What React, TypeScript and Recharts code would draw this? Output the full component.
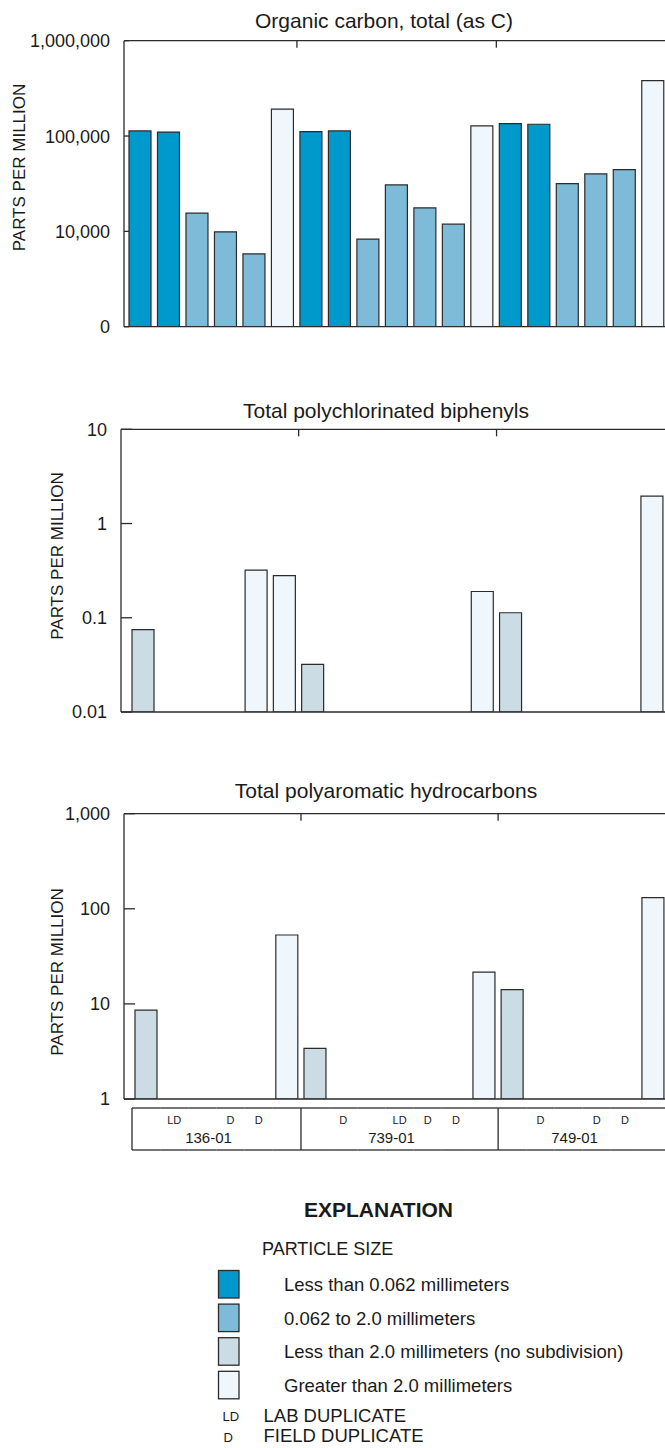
import { Bar, BarChart, Cell, XAxis, YAxis } from "recharts"

// sample layout along the x axis: site cores, in slot order
const sites = ["136-01", "739-01", "749-01"]
const siteSlots = [6, 7, 6]
const dupMarks = ["", "LD", "", "D", "D", "", "", "D", "", "LD", "D", "D", "", "", "D", "", "D", "D", ""]

// particle-size class of each slot
const carbonSizes = [
    "fine", "fine", "medium", "medium", "medium", "coarse",
    "fine", "fine", "medium", "medium", "medium", "medium", "coarse",
    "fine", "fine", "medium", "medium", "medium", "coarse",
]
const traceSizes = [
    "bulk", "", "", "", "coarse", "coarse",
    "bulk", "", "", "", "", "", "coarse",
    "bulk", "", "", "", "", "coarse",
]

// parts per million
const carbonValues = [
    113000, 110000, 15500, 9900, 5800, 192000,
    111000, 113000, 8300, 30700, 17600, 11900, 128000,
    135000, 133000, 31700, 40000, 44500, 381000,
]
const pcbValues = [
    0.075, null, null, null, 0.32, 0.28,
    0.032, null, null, null, null, null, 0.19,
    0.113, null, null, null, null, 1.95,
]
const pahValues = [
    8.6, null, null, null, null, 53,
    3.4, null, null, null, null, null, 21.6,
    14.1, null, null, null, null, 131,
]

const carbonTicks = [1000, 10000, 100000, 1000000]
const carbonTickLabels = ["0", "10,000", "100,000", "1,000,000"]
const pcbTicks = [0.01, 0.1, 1, 10]
const pcbTickLabels = ["0.01", "0.1", "1", "10"]
const pahTicks = [1, 10, 100, 1000]
const pahTickLabels = ["1", "10", "100", "1,000"]

const sizeClasses = ["fine", "medium", "bulk", "coarse"]
const sizeLabels = [
    "Less than 0.062 millimeters",
    "0.062 to 2.0 millimeters",
    "Less than 2.0 millimeters (no subdivision)",
    "Greater than 2.0 millimeters",
]

const sizeColors: Record<string, string> = {
    fine: "#0099cb",
    medium: "#7dbbd8",
    bulk: "#cbdce5",
    coarse: "#eff7fd",
}

const INK = "#2b2b2b"
const TEXT = "#1a1a1a"
const FONT = "'Liberation Sans', Arial, Helvetica, sans-serif"
const CHART_W = 680

const groupStarts = siteSlots.map((_, i) => siteSlots.slice(0, i).reduce((a, b) => a + b, 0))
const slotIds = dupMarks.map((_, i) => `S${i + 1}`)

function ValueTick(props: any) {
    const { x, y, payload, ticks, labels, gap, inner } = props
    const label = labels[ticks.indexOf(payload.value)] ?? ""
    return (
        <g>
            <line x1={x + gap} x2={x + gap + inner} y1={y} y2={y} stroke={INK} strokeWidth={1.3} />
            <text x={x} y={y} dy="0.36em" textAnchor="end" fontSize={18} fontFamily={FONT} fill={TEXT}>
                {label}
            </text>
        </g>
    )
}

// short inward marks on the top border between site groups
function GroupTick(props: any) {
    const { x, y, index, payload } = props
    if (index === 0 || !groupStarts.includes(index)) return <g />
    const left = x - (payload?.offset ?? 14)
    return <line x1={left} x2={left} y1={y} y2={y + 7} stroke={INK} strokeWidth={1.3} />
}

// sample box under the bottom panel: duplicate marks and site names
function SampleTick(props: any) {
    const { x, y, index, payload } = props
    const half = payload?.offset ?? 14
    const left = x - half
    const right = x + half
    const g = groupStarts.indexOf(index)
    return (
        <g>
            <line x1={left} x2={right} y1={y + 9} y2={y + 9} stroke={INK} strokeWidth={1.3} />
            <line x1={left} x2={right} y1={y + 51} y2={y + 51} stroke={INK} strokeWidth={1.3} />
            {g >= 0 && <line x1={left} x2={left} y1={y + 9} y2={y + 51} stroke={INK} strokeWidth={1.3} />}
            {dupMarks[index] && (
                <text x={x} y={y + 25} textAnchor="middle" fontSize={11} fontFamily={FONT} fill={TEXT}>
                    {dupMarks[index]}
                </text>
            )}
            {g >= 0 && (
                <text
                    x={left + siteSlots[g] * half - 8}
                    y={y + 44}
                    textAnchor="middle"
                    fontSize={15}
                    fontFamily={FONT}
                    fill={TEXT}
                >
                    {sites[g]}
                </text>
            )}
        </g>
    )
}

type PanelProps = {
    top: number
    height: number
    margin: { top: number; right: number; bottom: number; left: number }
    axisWidth: number
    padLeft: number
    values: (number | null)[]
    sizes: string[]
    ticks: number[]
    labels: string[]
    inner: number
    samples?: boolean
}

function Panel({ top, height, margin, axisWidth, padLeft, values, sizes, ticks, labels, inner, samples }: PanelProps) {
    const rows = slotIds.map((slot, i) => ({ slot, value: values[i], size: sizes[i] }))
    const domain = [ticks[0], ticks[ticks.length - 1]]
    return (
        <div style={{ position: "absolute", left: 0, top }}>
            <BarChart width={CHART_W} height={height} data={rows} margin={margin}>
                <XAxis
                    dataKey="slot"
                    height={1}
                    interval={0}
                    padding={{ left: padLeft, right: 0 }}
                    tickSize={0}
                    tickMargin={0}
                    tickLine={false}
                    axisLine={{ stroke: INK, strokeWidth: 1.3 }}
                    tick={samples ? <SampleTick /> : false}
                />
                <XAxis
                    xAxisId="top"
                    dataKey="slot"
                    orientation="top"
                    mirror
                    height={1}
                    interval={0}
                    padding={{ left: padLeft, right: 0 }}
                    tickSize={0}
                    tickMargin={0}
                    tickLine={false}
                    axisLine={{ stroke: INK, strokeWidth: 1.3 }}
                    tick={<GroupTick />}
                />
                <YAxis
                    type="number"
                    scale="log"
                    domain={domain}
                    allowDataOverflow
                    ticks={ticks}
                    interval={0}
                    width={axisWidth}
                    tickSize={0}
                    tickMargin={14}
                    tickLine={false}
                    axisLine={{ stroke: INK, strokeWidth: 1.3 }}
                    tick={<ValueTick ticks={ticks} labels={labels} gap={14} inner={inner} />}
                />
                <YAxis
                    yAxisId="right"
                    orientation="right"
                    mirror
                    type="number"
                    scale="log"
                    domain={domain}
                    allowDataOverflow
                    ticks={ticks}
                    interval={0}
                    width={1}
                    tickSize={3}
                    tick={false}
                    tickLine={{ stroke: INK, strokeWidth: 1.3 }}
                    axisLine={{ stroke: INK, strokeWidth: 1.3 }}
                />
                <Bar dataKey="value" barSize={22} stroke={INK} strokeWidth={1.2} isAnimationActive={false}>
                    {rows.map((r, i) => (
                        <Cell key={i} fill={sizeColors[r.size] ?? "none"} />
                    ))}
                </Bar>
            </BarChart>
        </div>
    )
}

function Overlay() {
    const yLabel = (x: number, y: number) => (
        <text
            x={x}
            y={y}
            transform={`rotate(-90 ${x} ${y})`}
            textAnchor="middle"
            dominantBaseline="central"
            fontSize={17}
            fill={TEXT}
        >
            PARTS PER MILLION
        </text>
    )
    return (
        <svg
            width={665}
            height={1448}
            style={{ position: "absolute", left: 0, top: 0, pointerEvents: "none" }}
            fontFamily={FONT}
        >
            <text x={384} y={28} textAnchor="middle" fontSize={21} fill={TEXT}>Organic carbon, total (as C)</text>
            <text x={386} y={418} textAnchor="middle" fontSize={21} fill={TEXT}>Total polychlorinated biphenyls</text>
            <text x={386} y={798} textAnchor="middle" fontSize={21} fill={TEXT}>Total polyaromatic hydrocarbons</text>
            {yLabel(19, 167.5)}
            {yLabel(57.5, 556)}
            {yLabel(57.5, 972)}

            <text x={378.5} y={1217} textAnchor="middle" fontSize={21} fontWeight="bold" fill={TEXT}>EXPLANATION</text>
            <text x={262} y={1255} fontSize={18} fill={TEXT}>PARTICLE SIZE</text>
            {sizeClasses.map((c, i) => {
                const y = 1270.5 + i * 33.6
                return (
                    <g key={c}>
                        <rect x={218.5} y={y} width={20.5} height={27.5} fill={sizeColors[c]} stroke={INK} strokeWidth={1.3} />
                        <text x={284} y={y + 20.5} fontSize={18.5} fill={TEXT}>{sizeLabels[i]}</text>
                    </g>
                )
            })}
            <text x={222.5} y={1421} fontSize={13} fill={TEXT}>LD</text>
            <text x={263.5} y={1421.5} fontSize={18.5} fill={TEXT}>LAB DUPLICATE</text>
            <text x={223.5} y={1441.5} fontSize={13} fill={TEXT}>D</text>
            <text x={263.5} y={1442} fontSize={18.5} fill={TEXT}>FIELD DUPLICATE</text>
        </svg>
    )
}

export default function App() {
    return (
        <div style={{ position: "relative", width: 665, height: 1448, overflow: "hidden", fontFamily: FONT, background: "#fff" }}>
            <style>{"body{margin:0}"}</style>
            <Panel
                top={0}
                height={340}
                margin={{ top: 40.7, right: 12.75, bottom: 12.3, left: 0 }}
                axisWidth={124}
                padLeft={2}
                values={carbonValues}
                sizes={carbonSizes}
                ticks={carbonTicks}
                labels={carbonTickLabels}
                inner={5}
            />
            <Panel
                top={390}
                height={340}
                margin={{ top: 39.3, right: 13.8, bottom: 17, left: 0 }}
                axisWidth={121}
                padLeft={8}
                values={pcbValues}
                sizes={traceSizes}
                ticks={pcbTicks}
                labels={pcbTickLabels}
                inner={11}
            />
            <Panel
                top={770}
                height={400}
                margin={{ top: 43.7, right: 12.9, bottom: 70, left: 0 }}
                axisWidth={124}
                padLeft={8}
                values={pahValues}
                sizes={traceSizes}
                ticks={pahTicks}
                labels={pahTickLabels}
                inner={11}
                samples
            />
            <Overlay />
        </div>
    )
}
